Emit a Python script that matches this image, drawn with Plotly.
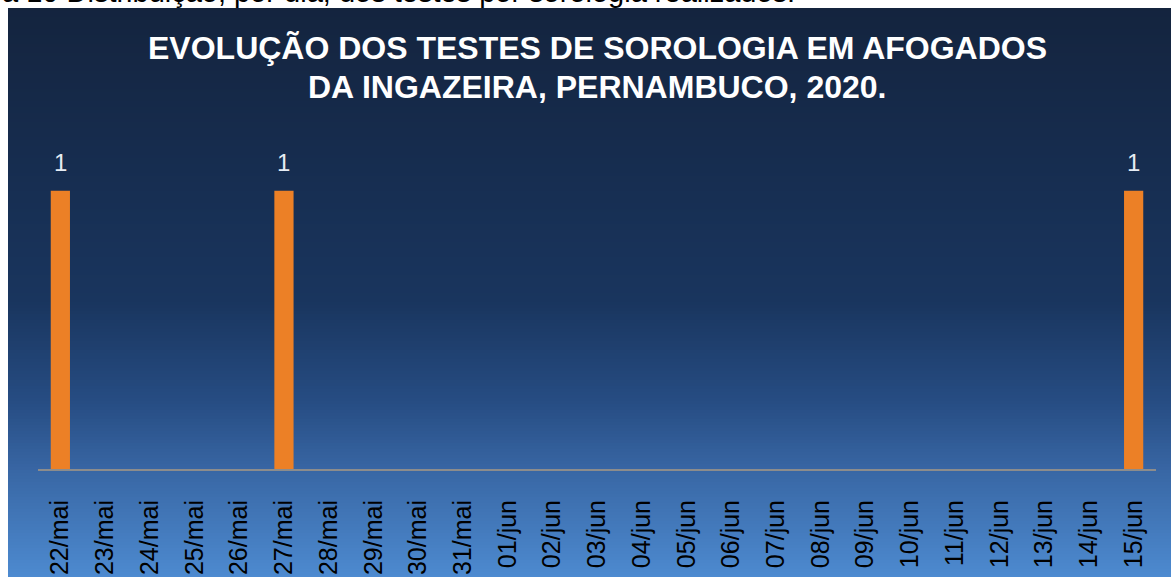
import plotly.graph_objects as go

categories = ["22/mai", "23/mai", "24/mai", "25/mai", "26/mai", "27/mai", "28/mai", "29/mai",
              "30/mai", "31/mai", "01/jun", "02/jun", "03/jun", "04/jun", "05/jun", "06/jun",
              "07/jun", "08/jun", "09/jun", "10/jun", "11/jun", "12/jun", "13/jun", "14/jun", "15/jun"]
values = [1, 0, 0, 0, 0, 1, 0, 0, 0, 0, 0, 0, 0, 0, 0, 0, 0, 0, 0, 0, 0, 0, 0, 0, 1]

title_lines = ["EVOLUÇÃO DOS TESTES DE SOROLOGIA EM AFOGADOS", "DA INGAZEIRA, PERNAMBUCO, 2020."]
caption_text = "a 10 Distribuição, por dia, dos testes por sorologia realizados."

W, H = 1171, 577
L, R, T, B = 38, 15, 135, 107
pw, ph = W - L - R, H - T - B

def px_x(x):
    return (x - L) / pw

def px_y(y):
    return (H - B - y) / ph

# background gradient stops (pixel y, rgb)
stops = [(8, (20, 36, 62)), (150, (22, 44, 78)), (300, (25, 53, 94)),
         (400, (38, 76, 130)), (470, (56, 102, 164)), (577, (77, 138, 208))]

def color_at(y):
    for (y0, c0), (y1, c1) in zip(stops[:-1], stops[1:]):
        if y0 <= y <= y1:
            t = (y - y0) / (y1 - y0)
            return "rgb(%d,%d,%d)" % tuple(round(a + (b - a) * t) for a, b in zip(c0, c1))
    return "rgb(%d,%d,%d)" % stops[-1][1]

shapes = []
step = 3
y = 8
while y < H:
    y2 = min(y + step + 2, H + 2)
    shapes.append(dict(type="rect", xref="paper", yref="paper", layer="below",
                       x0=px_x(8), x1=px_x(1190), y0=px_y(y2), y1=px_y(y),
                       fillcolor=color_at(y + step / 2), line=dict(width=0)))
    y += step

# axis baseline
shapes.append(dict(type="line", xref="paper", yref="paper", layer="above",
                   x0=0, x1=1, y0=0, y1=0, line=dict(color="#8C8C8C", width=2)))

fig = go.Figure()
fig.add_trace(go.Bar(x=categories, y=values, marker=dict(color="#EC8026", line=dict(width=0)),
                     width=0.43, hoverinfo="skip"))

annotations = []
for c, v in zip(categories, values):
    if v:
        annotations.append(dict(x=c, y=v, xref="x", yref="y", text=str(v), showarrow=False,
                                yanchor="bottom", yshift=13,
                                font=dict(family="Liberation Sans, Arial", size=24, color="#E6ECF4")))

for i, line in enumerate(title_lines):
    annotations.append(dict(x=px_x(597), y=px_y(48 + 39 * i), xref="paper", yref="paper",
                            text="<b>%s</b>" % line,
                            showarrow=False, xanchor="center", yanchor="middle",
                            font=dict(family="Liberation Sans, Arial", size=32, color="white")))

annotations.append(dict(x=px_x(0), y=px_y(10), xref="paper", yref="paper", text=caption_text,
                        showarrow=False, xanchor="left", yanchor="bottom",
                        font=dict(family="Liberation Sans, Arial", size=29, color="black")))

fig.update_layout(
    width=W, height=H,
    margin=dict(l=L, r=R, t=T, b=B, pad=0, autoexpand=False),
    paper_bgcolor="white", plot_bgcolor="rgba(0,0,0,0)",
    showlegend=False,
    shapes=shapes,
    annotations=annotations,
    xaxis=dict(type="category", range=[-0.5, len(categories) - 0.5], showgrid=False,
               showline=False, zeroline=False, tickangle=-90, ticks="outside", ticklen=19,
               tickcolor="rgba(0,0,0,0)", automargin=False,
               tickfont=dict(family="Liberation Sans, Arial", size=25, color="black")),
    yaxis=dict(range=[0, 1.2], visible=False, showgrid=False, zeroline=False, automargin=False),
)

fig.write_html("out.html", config={"displayModeBar": False},
               post_script="document.body.style.margin='0';")
